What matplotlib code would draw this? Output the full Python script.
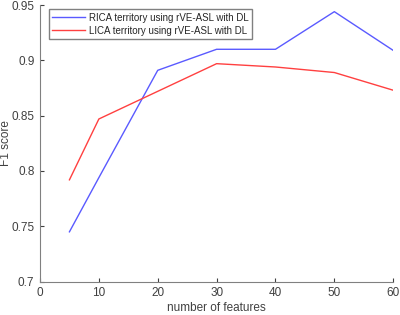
import matplotlib
matplotlib.use("Agg")
import matplotlib.pyplot as plt

plt.rcParams["font.family"] = ["Liberation Sans", "DejaVu Sans"]

n_features = [5, 10, 20, 30, 40, 50, 60]
rica_f1 = [0.745, 0.794, 0.891, 0.910, 0.910, 0.944, 0.909]
lica_f1 = [0.792, 0.847, 0.872, 0.897, 0.894, 0.889, 0.873]

TXT = "#404040"

fig = plt.figure(figsize=(4.0, 3.15), dpi=100)
ax = fig.add_axes([0.1, 0.106, 0.883, 0.878])

ax.plot(n_features, rica_f1, color="#5a5aff", linewidth=1.0,
        label="RICA territory using rVE-ASL with DL")
ax.plot(n_features, lica_f1, color="#ff4040", linewidth=1.0,
        label="LICA territory using rVE-ASL with DL")

ax.set_xlim(0, 60)
ax.set_ylim(0.7, 0.95)
ax.set_xticks(range(0, 61, 10))
ax.set_yticks([0.7, 0.75, 0.8, 0.85, 0.9, 0.95])
ax.set_yticklabels(["0.7", "0.75", "0.8", "0.85", "0.9", "0.95"])
ax.tick_params(direction="in", length=3, width=0.8, colors=TXT, labelsize=8.5)
ax.tick_params(axis="x", pad=4)
ax.tick_params(axis="y", pad=4)
ax.spines[["top", "right"]].set_visible(False)
for s in ("left", "bottom"):
    ax.spines[s].set_color("#808080")
    ax.spines[s].set_linewidth(0.8)

ax.set_xlabel("number of features", fontsize=8.5, color=TXT)
ax.xaxis.set_label_coords(0.5, -0.072)
ax.set_ylabel("F1 score", fontsize=8.5, color=TXT)
ax.yaxis.set_label_coords(-0.08, 0.5)

leg = ax.legend(loc="upper left", bbox_to_anchor=(0.025, 0.985), fontsize=7.0,
                fancybox=False, framealpha=1, edgecolor="#808080",
                handlelength=3.4, handletextpad=0.4, borderpad=0.35,
                labelspacing=0.3, borderaxespad=0)
leg.get_frame().set_linewidth(1.0)
for t in leg.get_texts():
    t.set_color("#262626")

fig.savefig("out.png", dpi=100, facecolor="white")
